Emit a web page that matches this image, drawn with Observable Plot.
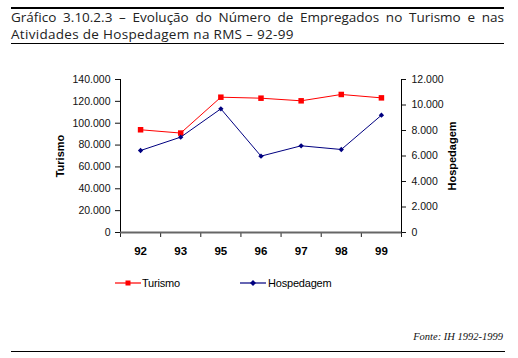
<!DOCTYPE html>
<html><head><meta charset="utf-8">
<script src="https://cdn.jsdelivr.net/npm/d3@7"></script>
<script src="https://cdn.jsdelivr.net/npm/@observablehq/plot@0.6"></script>
<style>
body{margin:0;background:#fff;width:518px;height:358px;position:relative;overflow:hidden;font-family:"Liberation Sans",Arial,sans-serif;}
#title{position:absolute;left:11px;top:7px;width:493px;border-top:2.5px solid #000;border-bottom:1.5px solid #000;font-family:"Open Sans",sans-serif;font-size:13.5px;line-height:17px;color:#222;padding-top:0px;padding-bottom:0px;text-align:justify;}
#title .l1{display:block;text-align-last:justify;white-space:nowrap;}
#title .l2{display:block;letter-spacing:0.3px;}
#chart{position:absolute;left:0;top:0;}
.leg{position:absolute;top:276px;font-size:11px;color:#000;display:flex;align-items:center;letter-spacing:-0.2px;}
#fonte{position:absolute;right:15px;top:331px;font-family:"Liberation Serif",serif;font-style:italic;font-size:10.5px;color:#111;}
#bottom{position:absolute;left:11px;width:494px;top:351px;border-top:1.5px solid #000;}
</style></head>
<body>
<div id="title"><span class="l1">Gráfico 3.10.2.3 – Evolução do Número de Empregados no Turismo e nas</span><span class="l2">Atividades de Hospedagem na RMS – 92-99</span></div>
<div id="chart"></div>
<div class="leg" style="left:115px"><svg width="27" height="14"><line x1="0" y1="7" x2="26" y2="7" stroke="#ff0000" stroke-opacity="0.6" stroke-width="2"/><rect x="10.5" y="4.5" width="5" height="5" fill="#ff0000"/></svg><span>Turismo</span></div>
<div class="leg" style="left:240px"><svg width="28" height="14"><line x1="0" y1="7" x2="26" y2="7" stroke="#000080" stroke-opacity="0.6" stroke-width="2"/><path d="M13,4 L16,7 L13,10 L10,7 Z" fill="#000080"/></svg><span>Hospedagem</span></div>
<div id="fonte">Fonte: IH 1992-1999</div>
<div id="bottom"></div>
<script>
const years = ["92","93","95","96","97","98","99"];
const turismo = [94000, 91000, 123800, 122900, 120500, 126300, 123200];
const hospedagem = [6430, 7480, 9700, 5990, 6800, 6510, 9200];
const leftTicks = [0,20000,40000,60000,80000,100000,120000,140000];
const rightTicks = [0,2000,4000,6000,8000,10000,12000];

const k = 140000/12000;
const loc = d3.formatLocale({decimal:",", thousands:".", grouping:[3], currency:["",""]});
const fmt = loc.format(",");
const rows = years.map((y,i)=>({i, year:y, t:turismo[i], h:hospedagem[i]}));
const bounds = d3.range(years.length+1).map(i=>i-0.5);

const plot = Plot.plot({
  width:518, height:300,
  marginLeft:120, marginRight:117, marginTop:79, marginBottom:68,
  style:{fontFamily:"Liberation Sans, Arial, sans-serif", background:"transparent"},
  x:{type:"linear", domain:[-0.5, years.length-0.5]},
  y:{domain:[0,140000]},
  marks:[
    Plot.axisY({ticks:leftTicks, tickFormat:fmt, tickSize:5, tickPadding:5, fontSize:10.5, label:null, color:"#111", style:{letterSpacing:"-0.4px"}}),
    Plot.axisY({anchor:"right", ticks:rightTicks.map(v=>v*k), tickFormat:v=>fmt(Math.round(v/k)), tickSize:4, tickPadding:6, fontSize:10.5, label:null, color:"#111", style:{letterSpacing:"-0.4px"}}),
    Plot.axisX({ticks:bounds, tickFormat:()=>"", tickSize:5, label:null, stroke:"#222"}),
    Plot.axisX({ticks:d3.range(years.length), tickFormat:i=>years[i], tickSize:0, tickPadding:14, fontSize:11.5, fontWeight:"bold", label:null}),
    Plot.ruleX([-0.5], {y1:0, y2:140000, stroke:"#000"}),
    Plot.ruleX([years.length-0.5], {y1:0, y2:140000, stroke:"#000"}),
    Plot.ruleY([0], {x1:-0.5, x2:years.length-0.5, stroke:"#666", strokeWidth:2}),
    Plot.line(rows, {x:"i", y:"t", stroke:"#ff0000", strokeWidth:1}),
    Plot.dot(rows, {x:"i", y:"t", symbol:"square", r:3.1, fill:"#ff0000", stroke:null}),
    Plot.line(rows, {x:"i", y:d=>d.h*k, stroke:"#000080", strokeWidth:1}),
    Plot.dot(rows, {x:"i", y:d=>d.h*k, symbol:"diamond2", r:2.4, fill:"#000080", stroke:null}),
    Plot.text(["Turismo"], {frameAnchor:"left", dx:-60, rotate:-90, textAnchor:"middle", fontSize:11, fontWeight:"bold", fill:"#000", style:{letterSpacing:"-0.8px"}}),
    Plot.text(["Hospedagem"], {frameAnchor:"right", dx:51, rotate:-90, textAnchor:"middle", fontSize:11, fontWeight:"bold", fill:"#000", style:{letterSpacing:"-0.6px"}})
  ]
});
document.getElementById("chart").appendChild(plot);
</script>
</body></html>
